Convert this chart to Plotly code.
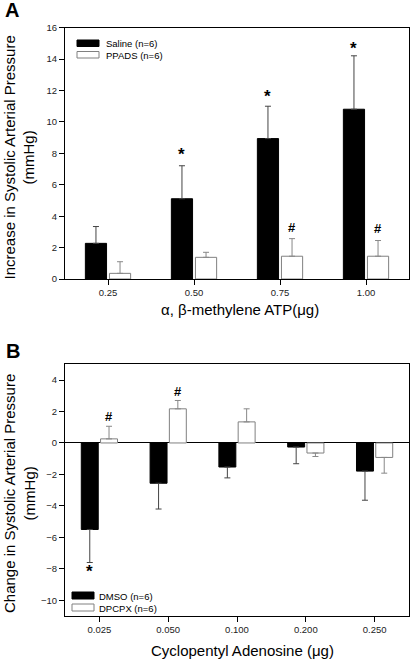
import plotly.graph_objects as go

# ---------- Panel A data ----------
doses_a = ["0.25", "0.50", "0.75", "1.00"]
saline = [2.27, 5.11, 8.94, 10.81]
saline_err = [1.07, 2.10, 2.06, 3.40]
ppads = [0.36, 1.38, 1.45, 1.45]
ppads_err = [0.74, 0.32, 1.12, 1.00]
star_a = [None, 7.9, 11.6, 14.7]      # '*' over Saline
hash_a = [None, None, 3.27, 3.2]      # '#' over PPADS

# ---------- Panel B data ----------
doses_b = ["0.025", "0.050", "0.100", "0.200", "0.250"]
dmso = [-5.50, -2.56, -1.53, -0.26, -1.79]
dmso_err = [2.10, 1.64, 0.69, 1.06, 1.85]
dpcpx = [0.26, 2.17, 1.34, -0.64, -0.92]
dpcpx_err = [0.80, 0.53, 0.83, 0.22, 1.00]
star_b = [-8.14, None, None, None, None]   # '*' below DMSO
hash_b = [1.66, 3.26, None, None, None]    # '#' over DPCPX

FONT = "Liberation Sans, Arial, sans-serif"
BLACK_ERR = "#444444"
WHITE_ERR = "#888888"
OUTLINE = "#808080"
OFF = 0.14  # half-slot offset of grouped bars (bargap/bargroupgap below)

W, H = 413.0, 659.0


def fx(p):
    return p / W


def fy(p):
    return 1 - p / H


def err_arrays(vals, errs):
    up = [e if v >= 0 else 0 for v, e in zip(vals, errs)]
    down = [e if v < 0 else 0 for v, e in zip(vals, errs)]
    return up, down


def bar(xs, vals, errs, name, fill, line, ecol, xa, ya):
    up, down = err_arrays(vals, errs)
    return go.Bar(
        x=xs, y=vals, name=name, xaxis=xa, yaxis=ya, showlegend=False,
        marker=dict(color=fill, line=dict(color=line, width=1)),
        error_y=dict(type="data", symmetric=False, array=up, arrayminus=down,
                     color=ecol, thickness=1, width=3),
    )


xa_idx = list(range(len(doses_a)))
xb_idx = list(range(len(doses_b)))

fig = go.Figure()
fig.add_trace(bar(xa_idx, saline, saline_err, "Saline (n=6)", "black", "black", BLACK_ERR, "x", "y"))
fig.add_trace(bar(xa_idx, ppads, ppads_err, "PPADS (n=6)", "white", OUTLINE, WHITE_ERR, "x", "y"))
fig.add_trace(bar(xb_idx, dmso, dmso_err, "DMSO (n=6)", "black", "black", BLACK_ERR, "x2", "y2"))
fig.add_trace(bar(xb_idx, dpcpx, dpcpx_err, "DPCPX (n=6)", "white", OUTLINE, WHITE_ERR, "x2", "y2"))

ann = []


def mark(xref, yref, xs, ys, sym, offset, size):
    for x, y in zip(xs, ys):
        if y is None:
            continue
        ann.append(dict(x=x + offset, y=y, xref=xref, yref=yref, text="<b>%s</b>" % sym,
                        showarrow=False, xanchor="center", yanchor="middle",
                        font=dict(family=FONT, size=size, color="black")))


mark("x", "y", xa_idx, star_a, "*", -OFF, 17)
mark("x", "y", xa_idx, hash_a, "#", OFF, 13)
mark("x2", "y2", xb_idx, star_b, "*", -OFF, 17)
mark("x2", "y2", xb_idx, hash_b, "#", OFF, 13)


def ptext(text, x, y, size, angle=0):
    return dict(text=text, x=fx(x), y=fy(y), xref="paper", yref="paper", textangle=angle,
                xanchor="center", yanchor="middle", showarrow=False,
                font=dict(family=FONT, size=size, color="black"))


# axis titles and panel labels (positions in page pixels)
ann += [
    ptext("Increase in Systolic Arterial Pressure<br>(mmHg)", 19, 157.5, 15, -90),
    ptext("α, β-methylene ATP(μg)", 240, 310, 15),
    ptext("Change in Systolic Arterial Pressure<br>(mmHg)", 20, 494, 15, -90),
    ptext("Cyclopentyl Adenosine (μg)", 242, 650, 15),
    ptext("<b>A</b>", 11.5, 10, 20),
    ptext("<b>B</b>", 12.5, 351, 20),
]

# custom legends (wide flat swatches like the original)
legend_items = [
    ("Saline (n=6)", "black", "black", 77, 99, 40, 46.5, 104, 43.5),
    ("PPADS (n=6)", "white", OUTLINE, 77, 99, 51.5, 58, 104, 55.5),
    ("DMSO (n=6)", "black", "black", 72, 94, 592, 599, 97, 596),
    ("DPCPX (n=6)", "white", OUTLINE, 72, 94, 604, 611, 97, 608),
]
shapes = []
for label, fill, line, x0, x1, y0, y1, tx, ty in legend_items:
    shapes.append(dict(type="rect", xref="paper", yref="paper",
                       x0=fx(x0), x1=fx(x1), y0=fy(y1), y1=fy(y0),
                       fillcolor=fill, line=dict(color=line, width=1)))
    ann.append(dict(text=label, x=fx(tx), y=fy(ty), xref="paper", yref="paper",
                    xanchor="left", yanchor="middle", showarrow=False,
                    font=dict(family=FONT, size=9.5, color="black")))

axis_common = dict(showline=True, linecolor="black", linewidth=1, mirror=True,
                   ticks="outside", ticklen=5, tickcolor="black", showgrid=False,
                   automargin=False,
                   tickfont=dict(family=FONT, size=9.5, color="#222222"))

fig.update_layout(
    width=W, height=H, margin=dict(l=0, r=0, t=0, b=0, autoexpand=False),
    paper_bgcolor="white", plot_bgcolor="white",
    barmode="group", bargap=0.44, bargroupgap=0.12,
    font=dict(family=FONT),
    xaxis=dict(domain=[fx(65), fx(409)], anchor="y", range=[-0.5, len(doses_a) - 0.5],
               tickvals=xa_idx, ticktext=doses_a, zeroline=False, **axis_common),
    yaxis=dict(domain=[fy(279), fy(27.7)], anchor="x", range=[0, 16],
               tickvals=list(range(0, 17, 2)), zeroline=False, **axis_common),
    xaxis2=dict(domain=[fx(65), fx(409)], anchor="y2", range=[-0.5, len(doses_b) - 0.5],
                tickvals=xb_idx, ticktext=doses_b, zeroline=False, **axis_common),
    yaxis2=dict(domain=[fy(616), fy(364.3)], anchor="x2", range=[-11, 5],
                tickvals=list(range(-10, 5, 2)), zeroline=True, zerolinecolor="black",
                zerolinewidth=1, **axis_common),
    annotations=ann, shapes=shapes,
)

# remove the browser's default 8px body margin so the figure sits at the page origin
fig.write_html("out.html", config={"displayModeBar": False},
               post_script="document.body.style.margin='0px';document.body.style.overflow='hidden';")
